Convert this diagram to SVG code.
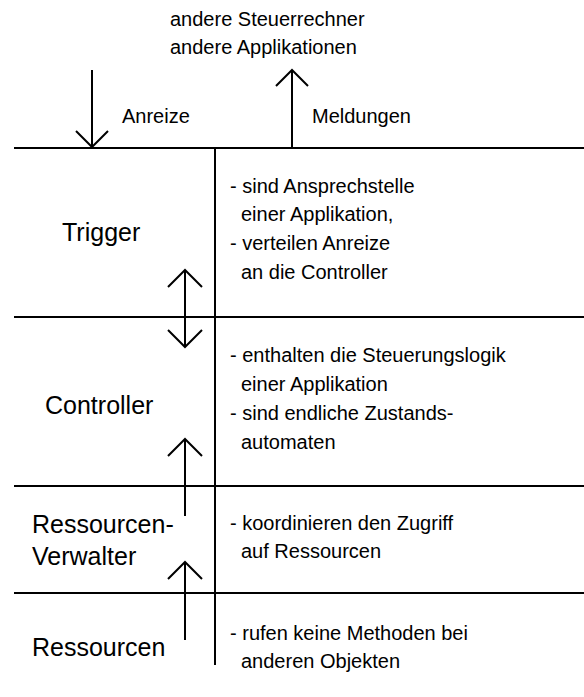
<svg xmlns="http://www.w3.org/2000/svg" width="584" height="697" viewBox="0 0 584 697">
<style>
.ln{stroke:#000;stroke-width:2;fill:none}
.s{font-family:"Liberation Sans",Arial,sans-serif;font-size:20px;fill:#000}
.b{font-family:"Liberation Sans",Arial,sans-serif;font-size:25px;fill:#000}
</style>
<rect width="584" height="697" fill="#fff"/>
<g id="frame">
<line class="ln" x1="14" y1="148" x2="584" y2="148"/>
<line class="ln" x1="14" y1="317" x2="584" y2="317"/>
<line class="ln" x1="14" y1="486" x2="584" y2="486"/>
<line class="ln" x1="14" y1="593" x2="584" y2="593"/>
<line class="ln" x1="215" y1="148" x2="215" y2="665"/>
</g>
<g id="outside">
<text class="s" x="170" y="26">andere Steuerrechner</text>
<text class="s" x="170" y="54">andere Applikationen</text>
</g>
<g id="trigger">
<text class="b" x="62" y="241">Trigger</text>
<text class="s" x="230" y="193">- sind Ansprechstelle</text>
<text class="s" x="241" y="221">einer Applikation,</text>
<text class="s" x="230" y="250">- verteilen Anreize</text>
<text class="s" x="241" y="279">an die Controller</text>
</g>
<g id="controller">
<text class="b" x="45" y="414">Controller</text>
<text class="s" x="230" y="362">- enthalten die Steuerungslogik</text>
<text class="s" x="241" y="391">einer Applikation</text>
<text class="s" x="230" y="420">- sind endliche Zustands-</text>
<text class="s" x="241" y="449">automaten</text>
</g>
<g id="verwalter">
<text class="b" x="32" y="533">Ressourcen-</text>
<text class="b" x="32" y="565">Verwalter</text>
<text class="s" x="230" y="530">- koordinieren den Zugriff</text>
<text class="s" x="241" y="558">auf Ressourcen</text>
</g>
<g id="ressourcen">
<text class="b" x="32" y="656">Ressourcen</text>
<text class="s" x="230" y="640">- rufen keine Methoden bei</text>
<text class="s" x="241" y="668">anderen Objekten</text>
</g>
<g id="connectors">
<path class="ln" d="M92 70V147M76 131L92 147L108 131"/>
<text class="s" x="122" y="123">Anreize</text>
<path class="ln" d="M292 148V70M276 86L292 70L308 86"/>
<text class="s" x="312" y="123">Meldungen</text>
<path class="ln" d="M185 270V347M168 287L185 270L202 287M168 330L185 347L202 330"/>
<path class="ln" d="M185 516V439M168 456L185 439L202 456"/>
<path class="ln" d="M185 640V562M168 579L185 562L202 579"/>
</g>
</svg>
